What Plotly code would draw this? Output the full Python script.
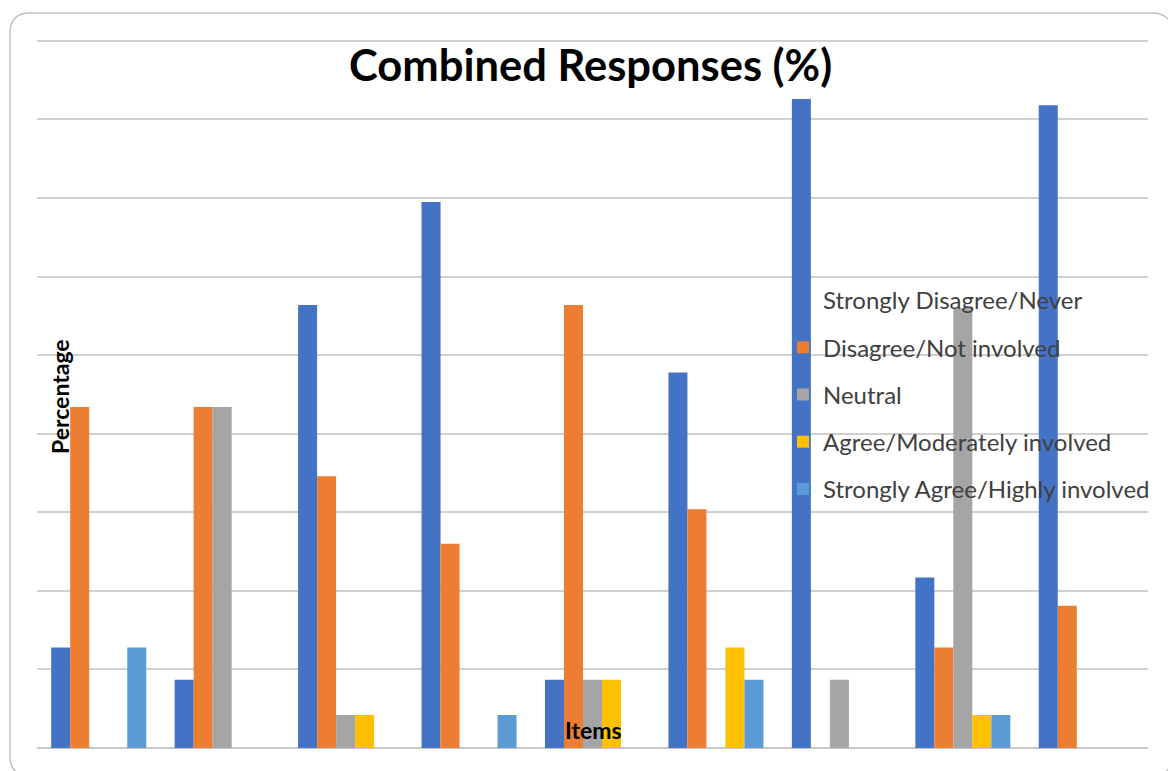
import plotly.graph_objects as go

# Response categories for each survey item (percent of respondents)
items = ["Item 1", "Item 2", "Item 3", "Item 4", "Item 5",
         "Item 6", "Item 7", "Item 8", "Item 9"]

strongly_disagree = [12.8, 8.7, 56.4, 69.5, 8.7, 47.8, 82.6, 21.7, 81.8]
disagree = [43.4, 43.4, 34.6, 26.0, 56.4, 30.4, 0, 12.8, 18.1]
neutral = [0, 43.4, 4.2, 0, 8.7, 0, 8.7, 56.0, 0]
agree = [0, 0, 4.2, 0, 8.7, 12.8, 0, 4.2, 0]
strongly_agree = [12.8, 0, 0, 4.2, 0, 8.7, 0, 4.2, 0]

series_names = [
    "Strongly Disagree/Never",
    "Disagree/Not involved",
    "Neutral",
    "Agree/Moderately involved",
    "Strongly Agree/Highly involved",
]
series_values = [strongly_disagree, disagree, neutral, agree, strongly_agree]
series_colors = ["#4472C4", "#ED7D31", "#A5A5A5", "#FFC000", "#5B9BD5"]

W, H = 1168, 771
L, R, T, B = 37, 20, 37, 23
PW, PH = W - L - R, H - T - B
Y_MAX = 90.5


def px_x(px):
    return (px - L) / PW


def px_y(py):
    return (H - B - py) / PH


fig = go.Figure()
for name, vals, color in zip(series_names, series_values, series_colors):
    fig.add_trace(go.Bar(
        x=items, y=vals, name=name, legendgroup=name,
        marker=dict(color=color, line=dict(width=0)),
    ))

# Rounded chart-area border
x0, x1 = px_x(10), px_x(1172)
y0, y1 = px_y(776), px_y(13)
rx, ry = 20 / PW, 20 / PH
border = (
    f"M {x0 + rx},{y1} L {x1 - rx},{y1} Q {x1},{y1} {x1},{y1 - ry} "
    f"L {x1},{y0 + ry} Q {x1},{y0} {x1 - rx},{y0} "
    f"L {x0 + rx},{y0} Q {x0},{y0} {x0},{y0 + ry} "
    f"L {x0},{y1 - ry} Q {x0},{y1} {x0 + rx},{y1} Z"
)

fig.update_layout(
    width=W, height=H,
    margin=dict(l=L, r=R, t=T, b=B, pad=0),
    paper_bgcolor="white", plot_bgcolor="white",
    font=dict(family="Lato, Carlito, sans-serif", color="#404040"),
    barmode="group", bargap=0.23, bargroupgap=0,
    showlegend=True,
    legend=dict(
        x=px_x(783), xanchor="left", y=px_y(278), yanchor="top",
        font=dict(size=24, color="#404040"),
        bgcolor="rgba(0,0,0,0)", borderwidth=0,
        tracegroupgap=13, traceorder="grouped",
    ),
    xaxis=dict(showticklabels=False, showgrid=False, zeroline=False,
               showline=False, ticks=""),
    yaxis=dict(range=[0, Y_MAX], dtick=10, showticklabels=False,
               showgrid=True, gridcolor="#d0d0d0", gridwidth=1.5,
               zeroline=True, zerolinecolor="#c8c8c8", zerolinewidth=1.5,
               showline=False, ticks=""),
    shapes=[dict(type="path", xref="paper", yref="paper", path=border,
                 line=dict(color="#c0c0c0", width=1.5), layer="below")],
    annotations=[
        dict(text="<b>Combined Responses (%)</b>", xref="paper", yref="paper",
             x=px_x(590), y=px_y(64), xanchor="center", yanchor="middle",
             showarrow=False, font=dict(size=43.5, color="black")),
        dict(text="<b>Percentage</b>", xref="paper", yref="paper",
             x=px_x(60), y=px_y(397), xanchor="center", yanchor="middle",
             textangle=-90, showarrow=False,
             font=dict(size=23, color="black")),
        dict(text="<b>Items</b>", xref="paper", yref="paper",
             x=px_x(593), y=px_y(730), xanchor="center", yanchor="middle",
             showarrow=False, font=dict(size=23, color="black")),
    ],
)

fig.write_html("out.html")
